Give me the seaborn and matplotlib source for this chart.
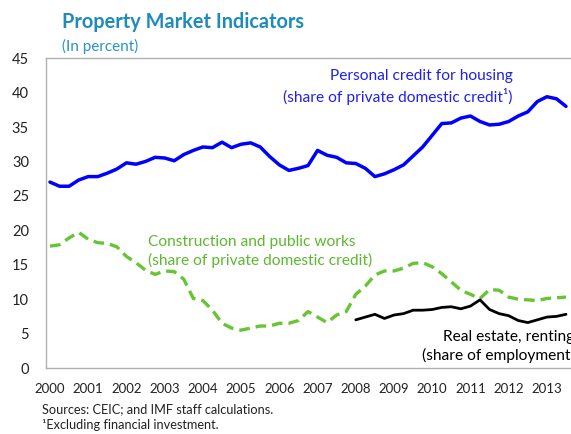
import numpy as np
import pandas as pd
import seaborn as sns
import matplotlib
matplotlib.use("Agg")
import matplotlib.pyplot as plt

# quarterly, 2000Q1 .. 2013Q3
housing_credit = [
    27.0, 26.4, 26.4, 27.3, 27.8, 27.8, 28.3, 28.9, 29.8, 29.6,
    30.0, 30.6, 30.5, 30.1, 31.0, 31.6, 32.1, 32.0, 32.8, 32.0,
    32.5, 32.7, 32.1, 30.7, 29.5, 28.7, 29.0, 29.4, 31.6, 30.9,
    30.6, 29.8, 29.7, 29.0, 27.8, 28.2, 28.8, 29.5, 30.8, 32.1,
    33.8, 35.5, 35.6, 36.3, 36.6, 35.8, 35.3, 35.4, 35.8, 36.6,
    37.2, 38.7, 39.4, 39.1, 38.0,
]
construction_credit = [
    17.7, 17.9, 18.9, 19.7, 18.7, 18.2, 18.1, 17.6, 16.2, 15.3,
    14.2, 13.6, 14.1, 14.0, 12.9, 10.1, 9.8, 8.4, 6.5, 5.8,
    5.5, 5.8, 6.1, 6.1, 6.5, 6.5, 6.9, 8.2, 7.4, 6.6,
    7.7, 8.2, 10.7, 11.9, 13.5, 14.1, 14.1, 14.5, 15.2, 15.3,
    14.7, 13.7, 12.5, 11.3, 10.7, 10.1, 11.4, 11.3, 10.3, 10.0,
    9.9, 9.8, 10.1, 10.2, 10.3,
]
# starts 2008Q1
real_estate_emp = [
    7.0, 7.4, 7.8, 7.2, 7.7, 7.9, 8.4, 8.4, 8.5, 8.8,
    8.9, 8.6, 9.0, 9.9, 8.5, 7.9, 7.6, 6.9, 6.6, 7.0,
    7.4, 7.5, 7.8,
]
year_ticks = list(range(2000, 2014))
y_ticks = list(range(0, 50, 5))

t = 2000 + np.arange(len(housing_credit)) / 4
df = pd.DataFrame({"t": t, "housing": housing_credit, "construction": construction_credit})
re_t = 2008 + np.arange(len(real_estate_emp)) / 4
df_re = pd.DataFrame({"t": re_t, "real_estate": real_estate_emp})

sns.set_style("white")
plt.rcParams["font.family"] = ["Lato", "DejaVu Sans"]

fig = plt.figure(figsize=(5.71, 4.34), dpi=100)
ax = fig.add_axes([0.080, 0.152, 0.93, 0.714])

sns.lineplot(data=df, x="t", y="housing", ax=ax, color="#0000ff", linewidth=2.5)
sns.lineplot(data=df, x="t", y="construction", ax=ax, color="#66c533",
             linewidth=2.4, linestyle=(0, (3.2, 1.8)))
sns.lineplot(data=df_re, x="t", y="real_estate", ax=ax, color="black", linewidth=2.0)

ax.set_xlim(1999.887, 2013.78)
ax.set_ylim(0, 45)
ax.set_xticks(year_ticks)
ax.set_xticklabels([str(y) for y in year_ticks])
ax.set_yticks(y_ticks)
ax.set_xlabel("")
ax.set_ylabel("")
ax.tick_params(axis="x", labelsize=9.5, pad=11, length=0, colors="#222222")
ax.tick_params(axis="y", labelsize=10.5, pad=12, length=0, colors="#222222")
for s in ["left", "bottom", "top"]:
    ax.spines[s].set_color("#b0b0b0")
    ax.spines[s].set_linewidth(1.0)
ax.spines["right"].set_visible(False)

ann = dict(fontsize=11.2, linespacing=1.3, va="center")
ax.text(2012.1, 40.8, "Personal credit for housing\n(share of private domestic credit\u00b9)",
        color="#2020ee", ha="right", multialignment="right", **ann)
ax.text(2002.57, 16.9, "Construction and public works\n(share of private domestic credit)",
        color="#5cb82e", ha="left", **ann)
ax.text(2013.72, 3.1, "Real estate, renting\n(share of employment)",
        color="black", ha="right", multialignment="right", **ann)

fig.text(62 / 571, 1 - 22 / 434, "Property Market Indicators", color="#1f8bbd",
         fontsize=14.3, fontweight="bold", ha="left", va="center")
fig.text(62 / 571, 1 - 46 / 434, "(In percent)", color="#2a93c4",
         fontsize=11, ha="left", va="center")
fig.text(42 / 571, 1 - 409 / 434, "Sources: CEIC; and IMF staff calculations.",
         fontsize=9.2, ha="left", va="center", color="#222222")
fig.text(42 / 571, 1 - 425 / 434, "\u00b9Excluding financial investment.",
         fontsize=9.2, ha="left", va="center", color="#222222")

fig.savefig("out.png", dpi=100)
